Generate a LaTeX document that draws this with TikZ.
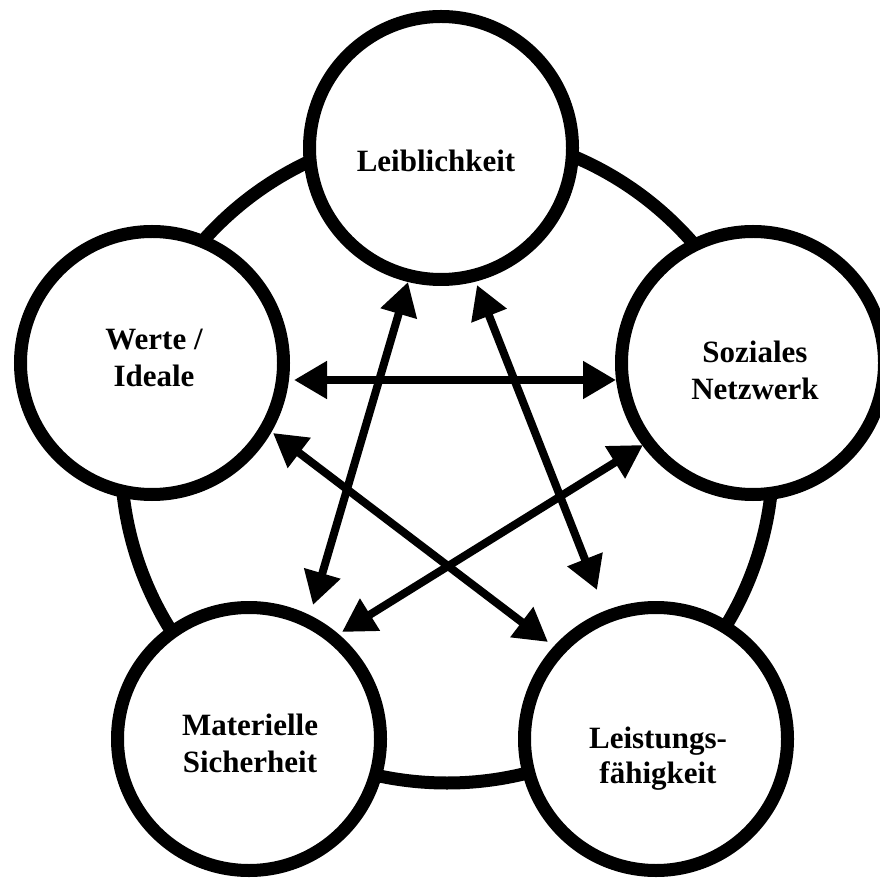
\documentclass[tikz,border=0pt]{standalone}
\usepackage{fontspec}
\setmainfont{Liberation Serif}
\usetikzlibrary{arrows.meta,calc}
\begin{document}
\begin{tikzpicture}[x=1pt,y=1pt,
  bubble/.style={circle,draw=black,fill=white,line width=13pt,minimum size=263pt,inner sep=0pt},
  ring/.style={draw=black,line width=13pt},
  lbl/.style={font=\bfseries\fontsize{31}{37}\selectfont,anchor=base,inner sep=0pt},
  link/.style={line width=8pt,{Triangle[length=33pt,width=36pt]}-{Triangle[length=33pt,width=36pt]}}]
\useasboundingbox (0,0) rectangle (880,879);
\fill[white] (0,0) rectangle (880,879);
\draw[ring] (447,422) circle[radius=326];
\node[bubble] (L) at (441,731) {};
\node[bubble] (W) at (152,516) {};
\node[bubble] (S) at (753,516) {};
\node[bubble] (M) at (249,140) {};
\node[bubble] (F) at (656,140) {};
\node[lbl] (tL) at (436,707) {Leiblichkeit};
\node[lbl] (tW1) at (154,529) {Werte /};
\node[lbl] (tW2) at (154,492) {Ideale};
\node[lbl] (tS1) at (755,516) {Soziales};
\node[lbl] (tS2) at (755,479) {Netzwerk};
\node[lbl] (tM1) at (250,144) {Materielle};
\node[lbl] (tM2) at (250,107) {Sicherheit};
\node[lbl] (tF1) at (658,131) {Leistungs-};
\node[lbl] (tF2) at (658,96) {fähigkeit};
\coordinate (WS-w) at ($(W)+(142,-17)$);
\coordinate (WS-s) at ($(S)+(-137,-17)$);
\coordinate (LM-l) at ($(L)+(-33,-134)$);
\coordinate (LM-m) at ($(M)+(64,134)$);
\coordinate (LF-l) at ($(L)+(36,-137)$);
\coordinate (LF-f) at ($(F)+(-59,149)$);
\coordinate (WF-w) at ($(W)+(121,-70)$);
\coordinate (WF-f) at ($(F)+(-108,97)$);
\coordinate (SM-s) at ($(S)+(-110,-82)$);
\coordinate (SM-m) at ($(M)+(93,107)$);
\draw[link] (WS-w) -- (WS-s);
\draw[link] (LM-l) -- (LM-m);
\draw[link] (LF-l) -- (LF-f);
\draw[link] (WF-w) -- (WF-f);
\draw[link] (SM-s) -- (SM-m);
\end{tikzpicture}
\end{document}
